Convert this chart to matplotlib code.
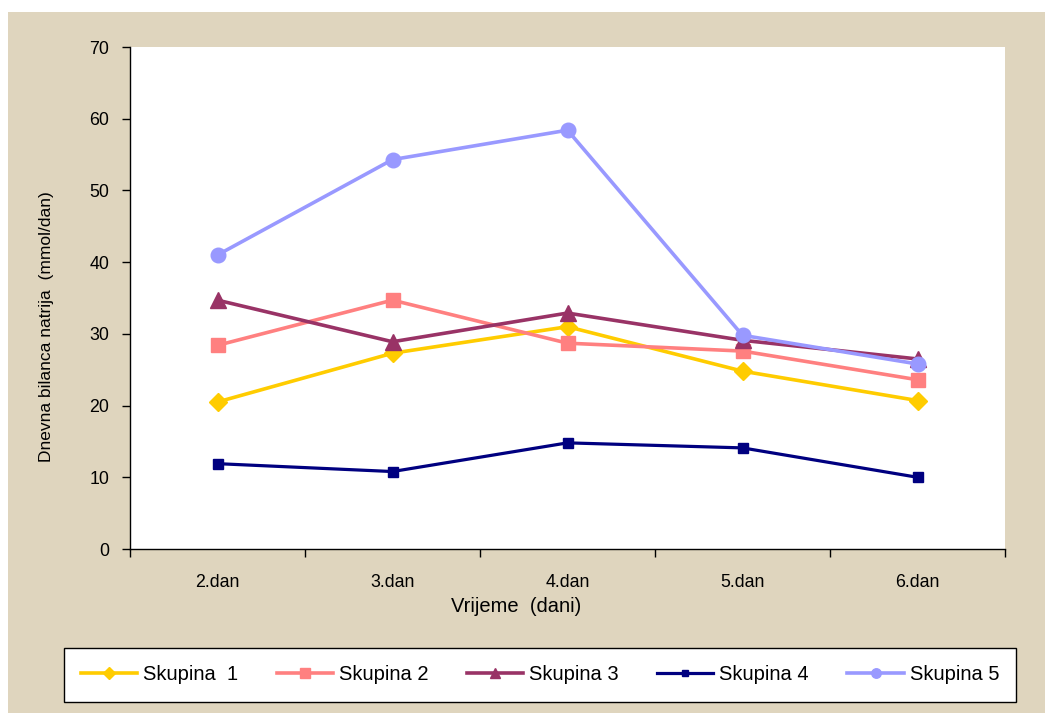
import matplotlib.pyplot as plt
from matplotlib.patches import Rectangle
from matplotlib.lines import Line2D

plt.rcParams["font.family"] = ["Liberation Sans", "DejaVu Sans"]

days = ["2.dan", "3.dan", "4.dan", "5.dan", "6.dan"]
group_names = ["Skupina  1", "Skupina 2", "Skupina 3", "Skupina 4", "Skupina 5"]

skupina_1 = [20.5, 27.3, 31.0, 24.8, 20.7]
skupina_2 = [28.4, 34.7, 28.7, 27.6, 23.6]
skupina_3 = [34.7, 28.9, 32.9, 29.1, 26.5]
skupina_4 = [11.9, 10.8, 14.8, 14.1, 10.0]
skupina_5 = [41.0, 54.3, 58.4, 29.8, 25.8]

series = [skupina_1, skupina_2, skupina_3, skupina_4, skupina_5]
colors = ["#FFCC00", "#FF8080", "#993366", "#000080", "#9999FF"]
markers = ["D", "s", "^", "s", "o"]
marker_sizes = [9.5, 10, 11, 7.5, 10.5]
line_widths = [2.6, 2.6, 2.6, 2.3, 2.6]

W, H = 1045, 713
fig = plt.figure(figsize=(W / 100, H / 100), dpi=100)
fig.patch.set_facecolor("white")

# beige "linen" backdrop
fig.patches.append(Rectangle((8 / W, 0), 1, (H - 12) / H, transform=fig.transFigure,
                             facecolor="#DFD5BE", edgecolor="none", zorder=-10))

ax = fig.add_axes([130 / W, 1 - 549 / H, 875 / W, 502 / H])
ax.set_facecolor("white")

x = [i + 0.5 for i in range(len(days))]
for vals, name, c, m, ms, lw in zip(series, group_names, colors, markers, marker_sizes, line_widths):
    ax.plot(x, vals, color=c, marker=m, markersize=ms, linewidth=lw,
            markeredgecolor=c, label=name, clip_on=False)

ax.set_xlim(0, len(days))
ax.set_ylim(0, 70)
ax.set_yticks(range(0, 71, 10))
ax.set_xticks(range(len(days) + 1))
ax.set_xticklabels([])
ax.set_xticks(x, minor=True)
ax.set_xticklabels(days, minor=True)
ax.tick_params(axis="x", which="minor", length=0, pad=18, labelsize=12.8)
ax.tick_params(axis="x", which="major", length=6, direction="out", width=1)
ax.tick_params(axis="y", length=6, direction="out", width=1, labelsize=12.8, pad=9)

for side in ["top", "right"]:
    ax.spines[side].set_visible(False)
ax.spines["left"].set_linewidth(1)
ax.spines["bottom"].set_linewidth(1)

fig.text(516 / W, 1 - 607 / H, "Vrijeme  (dani)", ha="center", va="center", fontsize=14.5)
fig.text(47 / W, 1 - 327 / H, "Dnevna bilanca natrija  (mmol/dan)", ha="center", va="center",
         rotation=90, fontsize=12.5)

handles = [Line2D([0], [0], color=c, marker=m, markersize=ms * 0.65, linewidth=lw,
                  markeredgecolor=c)
           for c, m, ms, lw in zip(colors, markers, marker_sizes, line_widths)]
leg = fig.legend(handles, group_names, loc="center", ncol=5,
                 bbox_to_anchor=(540 / W, 1 - 675 / H), frameon=True, fancybox=False,
                 edgecolor="black", fontsize=14.5, handlelength=2.8, columnspacing=1.9,
                 handletextpad=0.3, borderpad=0.85)
leg.get_frame().set_linewidth(1)
leg.get_frame().set_facecolor("white")
leg.get_frame().set_alpha(1)

fig.savefig("out.png", dpi=100)
